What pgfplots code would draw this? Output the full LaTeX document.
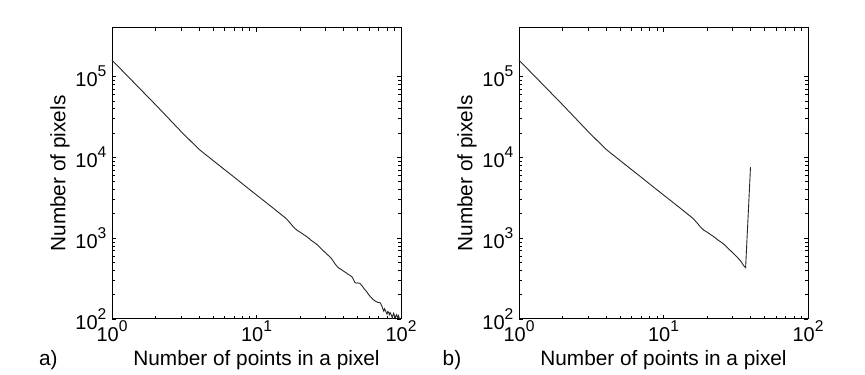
\documentclass[border=0pt]{standalone}
\usepackage{fontspec}
\setmainfont{Liberation Sans}
\usepackage{pgfplots}
\pgfplotsset{compat=1.18}

% power of ten with a raised exponent, as in the original tick labels
\newcommand\ee[1]{10\raisebox{0.49em}{\fontsize{7.8}{8}\selectfont #1}}

% shared look of both panels
\pgfplotsset{
  every axis/.append style={
    scale only axis,
    width=144.5pt, height=145.5pt,
    xmin=1, xmax=100, ymin=100, ymax=4e5,
    xtick={1,10,100},
    xticklabels={\ee{0},\ee{1},\ee{2}},
    ytick={100,1000,10000,100000},
    yticklabels={\ee{2},\ee{3},\ee{4},\ee{5}},
    tick label style={font=\fontsize{10}{12}\selectfont},
    xticklabel style={inner sep=0.6pt},
    yticklabel style={inner sep=2.6pt},
    major tick length=2.2pt, minor tick length=1.3pt,
    tick style={line width=0.4pt, black},
    axis line style={line width=0.5pt, black},
    clip=false,
  },
  every axis x label/.style={at={(axis description cs:0.5,-0.1615)}, anchor=base,
    font=\fontsize{10.4}{12}\selectfont},
  every axis y label/.style={at={(axis description cs:-0.145,0.5)}, anchor=south,
    rotate=90, inner sep=0pt, font=\fontsize{10.4}{12}\selectfont},
}

\begin{document}
\begin{tikzpicture}
\useasboundingbox (0,0) rectangle (432.5pt,187pt);

\begin{loglogaxis}[at={(56pt,27.5pt)}, anchor=south west,
    /pgf/number format/assume math mode=true,
    xlabel={Number of points in a pixel}, ylabel={Number of pixels}]
\addplot[black!85, line width=0.45pt, mark=none] coordinates {
(1,160000) (2,45000) (3,21000) (4,12600) (5,9170) (6,7080) (7,5700) (8,4710)
(9,3980) (10,3430) (11,3000) (12,2650) (13,2370) (14,2130) (15,1930) (16,1760)
(17,1560) (18,1380) (19,1260) (20,1190) (21,1120) (22,1060) (23,1000) (24,935)
(25,890) (26,845) (27,795) (28,745) (29,700) (30,660) (31,625) (32,595)
(33,560) (34,520) (35,480) (36,450) (37,428) (38,418) (39,405) (40,392)
(41,380) (42,370) (43,358) (44,349) (45,340) (46,330) (47,305) (48,282)
(49,278) (50,280) (51,278) (52,276) (53,265) (54,255) (55,243) (56,233)
(57,225) (58,216) (59,207) (60,198) (61,192) (62,186) (63,180) (64,175)
(65,171) (66,168) (67,165) (68,163) (69,161) (70,160) (71,160) (72,158)
(73,150) (74,142) (75,132) (76,125) (77,134) (78,128) (79,120) (80,115)
(81,124) (82,121) (83,113) (84,120) (85,116) (86,110) (87,104) (88,112)
(89,118) (90,110) (91,102) (92,108) (93,113) (94,108) (95,104) (96,110)
(97,104) (98,100)
};
\node[anchor=base, font=\fontsize{10.4}{12}\selectfont] at (axis description cs:-0.22,-0.1615) {a)};
\end{loglogaxis}

\begin{loglogaxis}[at={(259.5pt,27.5pt)}, anchor=south west,
    /pgf/number format/assume math mode=true,
    xlabel={Number of points in a pixel}, ylabel={Number of pixels}]
\addplot[black!85, line width=0.45pt, mark=none] coordinates {
(1,160000) (2,45000) (3,21000) (4,12600) (5,9170) (6,7080) (7,5700) (8,4710)
(9,3980) (10,3430) (11,3000) (12,2650) (13,2370) (14,2130) (15,1930) (16,1760)
(17,1560) (18,1380) (19,1260) (20,1190) (21,1120) (22,1060) (23,1000) (24,940)
(25,895) (26,850) (27,800) (28,750) (29,705) (30,665) (31,630) (32,595)
(33,560) (34,530) (35,490) (36,455) (37,432) (40,7600)
};
\node[anchor=base, font=\fontsize{10.4}{12}\selectfont] at (axis description cs:-0.232,-0.1615) {b)};
\end{loglogaxis}
\end{tikzpicture}
\end{document}
